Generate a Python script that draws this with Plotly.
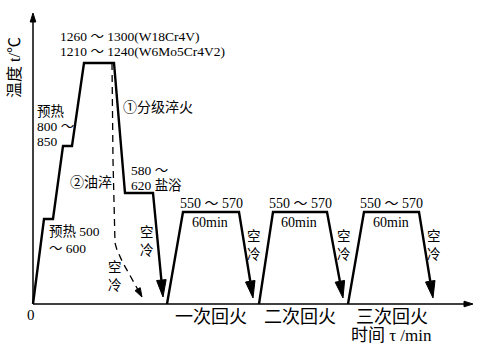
import plotly.graph_objects as go
import numpy as np

# ---- data (schematic units: time along x, temperature along y) ----
heat_x = [0, 11, 20, 30, 39, 51, 81, 92, 120, 130]
heat_y = [0, 85, 85, 158, 158, 241, 241, 111, 111, 7]

oil_x = [79, 80, 82, 84, 90, 109]
oil_y = [241, 144, 61, 54, 41, 7]

temper_x = [[134, 150, 206, 220], [226, 240, 294, 310], [315, 331, 386, 400]]
temper_y = [0, 92, 92, 6]
temper_names = ["一次回火", "二次回火", "三次回火"]
temper_temp = "550 ～ 570"
temper_time = "60min"

axis_x_max = 440
axis_y_max = 291

FONT = "Liberation Serif, Noto Sans CJK SC, serif"

fig = go.Figure()
shapes = []


def arrow_head(x0, y0, x1, y1, length, half_w):
    d = np.array([x1 - x0, y1 - y0], dtype=float)
    d /= np.hypot(*d)
    n = np.array([-d[1], d[0]])
    tip = np.array([x1, y1], dtype=float)
    base = tip - d * length
    p1 = base + n * half_w
    p2 = base - n * half_w
    path = f"M{tip[0]},{tip[1]} L{p1[0]},{p1[1]} L{p2[0]},{p2[1]} Z"
    return path, base


def add_line(xs, ys, dash="solid", width=2.2, head=None):
    xs = list(xs)
    ys = list(ys)
    if head is not None:
        path, base = arrow_head(xs[-2], ys[-2], xs[-1], ys[-1], *head)
        shapes.append(dict(type="path", path=path, xref="x", yref="y",
                           fillcolor="black", line=dict(color="black", width=1)))
        xs[-1], ys[-1] = base[0], base[1]
    fig.add_trace(go.Scatter(x=xs, y=ys, mode="lines",
                             line=dict(color="black", width=width, dash=dash),
                             hoverinfo="skip", showlegend=False))


# axes
add_line([0, axis_x_max], [0, 0], width=1.5, head=(9, 2.8))
add_line([0, 0], [0, axis_y_max], width=1.5, head=(9, 2.8))

# heating + graded quench
add_line(heat_x, heat_y, width=2.4, head=(17, 4.8))
# oil quench
add_line(oil_x, oil_y, dash="7px,5px", width=1.3, head=(9, 3))
# tempering cycles
for tx in temper_x:
    add_line(tx, temper_y, width=2.4, head=(17, 4.8))

ann = []


def text(x, y, s, size=13.5, xanchor="left", **kw):
    ann.append(dict(x=x, y=y, text=s, showarrow=False, xanchor=xanchor,
                    yanchor="middle", xref="x", yref="y",
                    font=dict(family=FONT, size=size, color="black"), **kw))


text(25, 268, "1260 ～ 1300(W18Cr4V)")
text(25, 253, "1210 ～ 1240(W6Mo5Cr4V2)")
text(2, 193, "预热")
text(2, 178, "800 ～")
text(2, 163, "850")
text(88, 197, "①分级淬火", size=14)
text(35, 122, "②油淬", size=14)
text(96, 134, "580 ～")
text(96, 119, "620 盐浴")
text(14, 73, "预热 500")
text(14, 56, "～ 600")


def stacked(x, y, s, size=13.5):
    for i, ch in enumerate(s):
        text(x, y + 9 - 18 * i, ch, size=size, xanchor="center")


stacked(114, 63, "空冷")
stacked(82, 28, "空冷")

for tx, name in zip(temper_x, temper_names):
    cx = (tx[1] + tx[2]) / 2
    text(cx, temper_y[1] + 9, temper_temp, size=14, xanchor="center")
    text(cx - 1, temper_y[1] - 10, temper_time, size=14, xanchor="center")
    stacked(tx[3] + 1, 59, "空冷")
    text(cx, -13, name, size=18, xanchor="center")

text(358, -31, "时间 τ /min", size=17, xanchor="center")
text(-2, -11, "0", size=15, xanchor="center")
ann.append(dict(x=-19, y=236, text="温度 t/℃", showarrow=False, textangle=-90,
                xref="x", yref="y", xanchor="center", yanchor="middle",
                font=dict(family=FONT, size=16, color="black")))

fig.update_layout(
    width=486, height=350,
    margin=dict(l=0, r=0, t=0, b=0),
    paper_bgcolor="white", plot_bgcolor="white",
    xaxis=dict(range=[-33, 453], visible=False, fixedrange=True),
    yaxis=dict(range=[-46, 304], visible=False, fixedrange=True),
    shapes=shapes, annotations=ann,
)

fig.write_html("out.html")
